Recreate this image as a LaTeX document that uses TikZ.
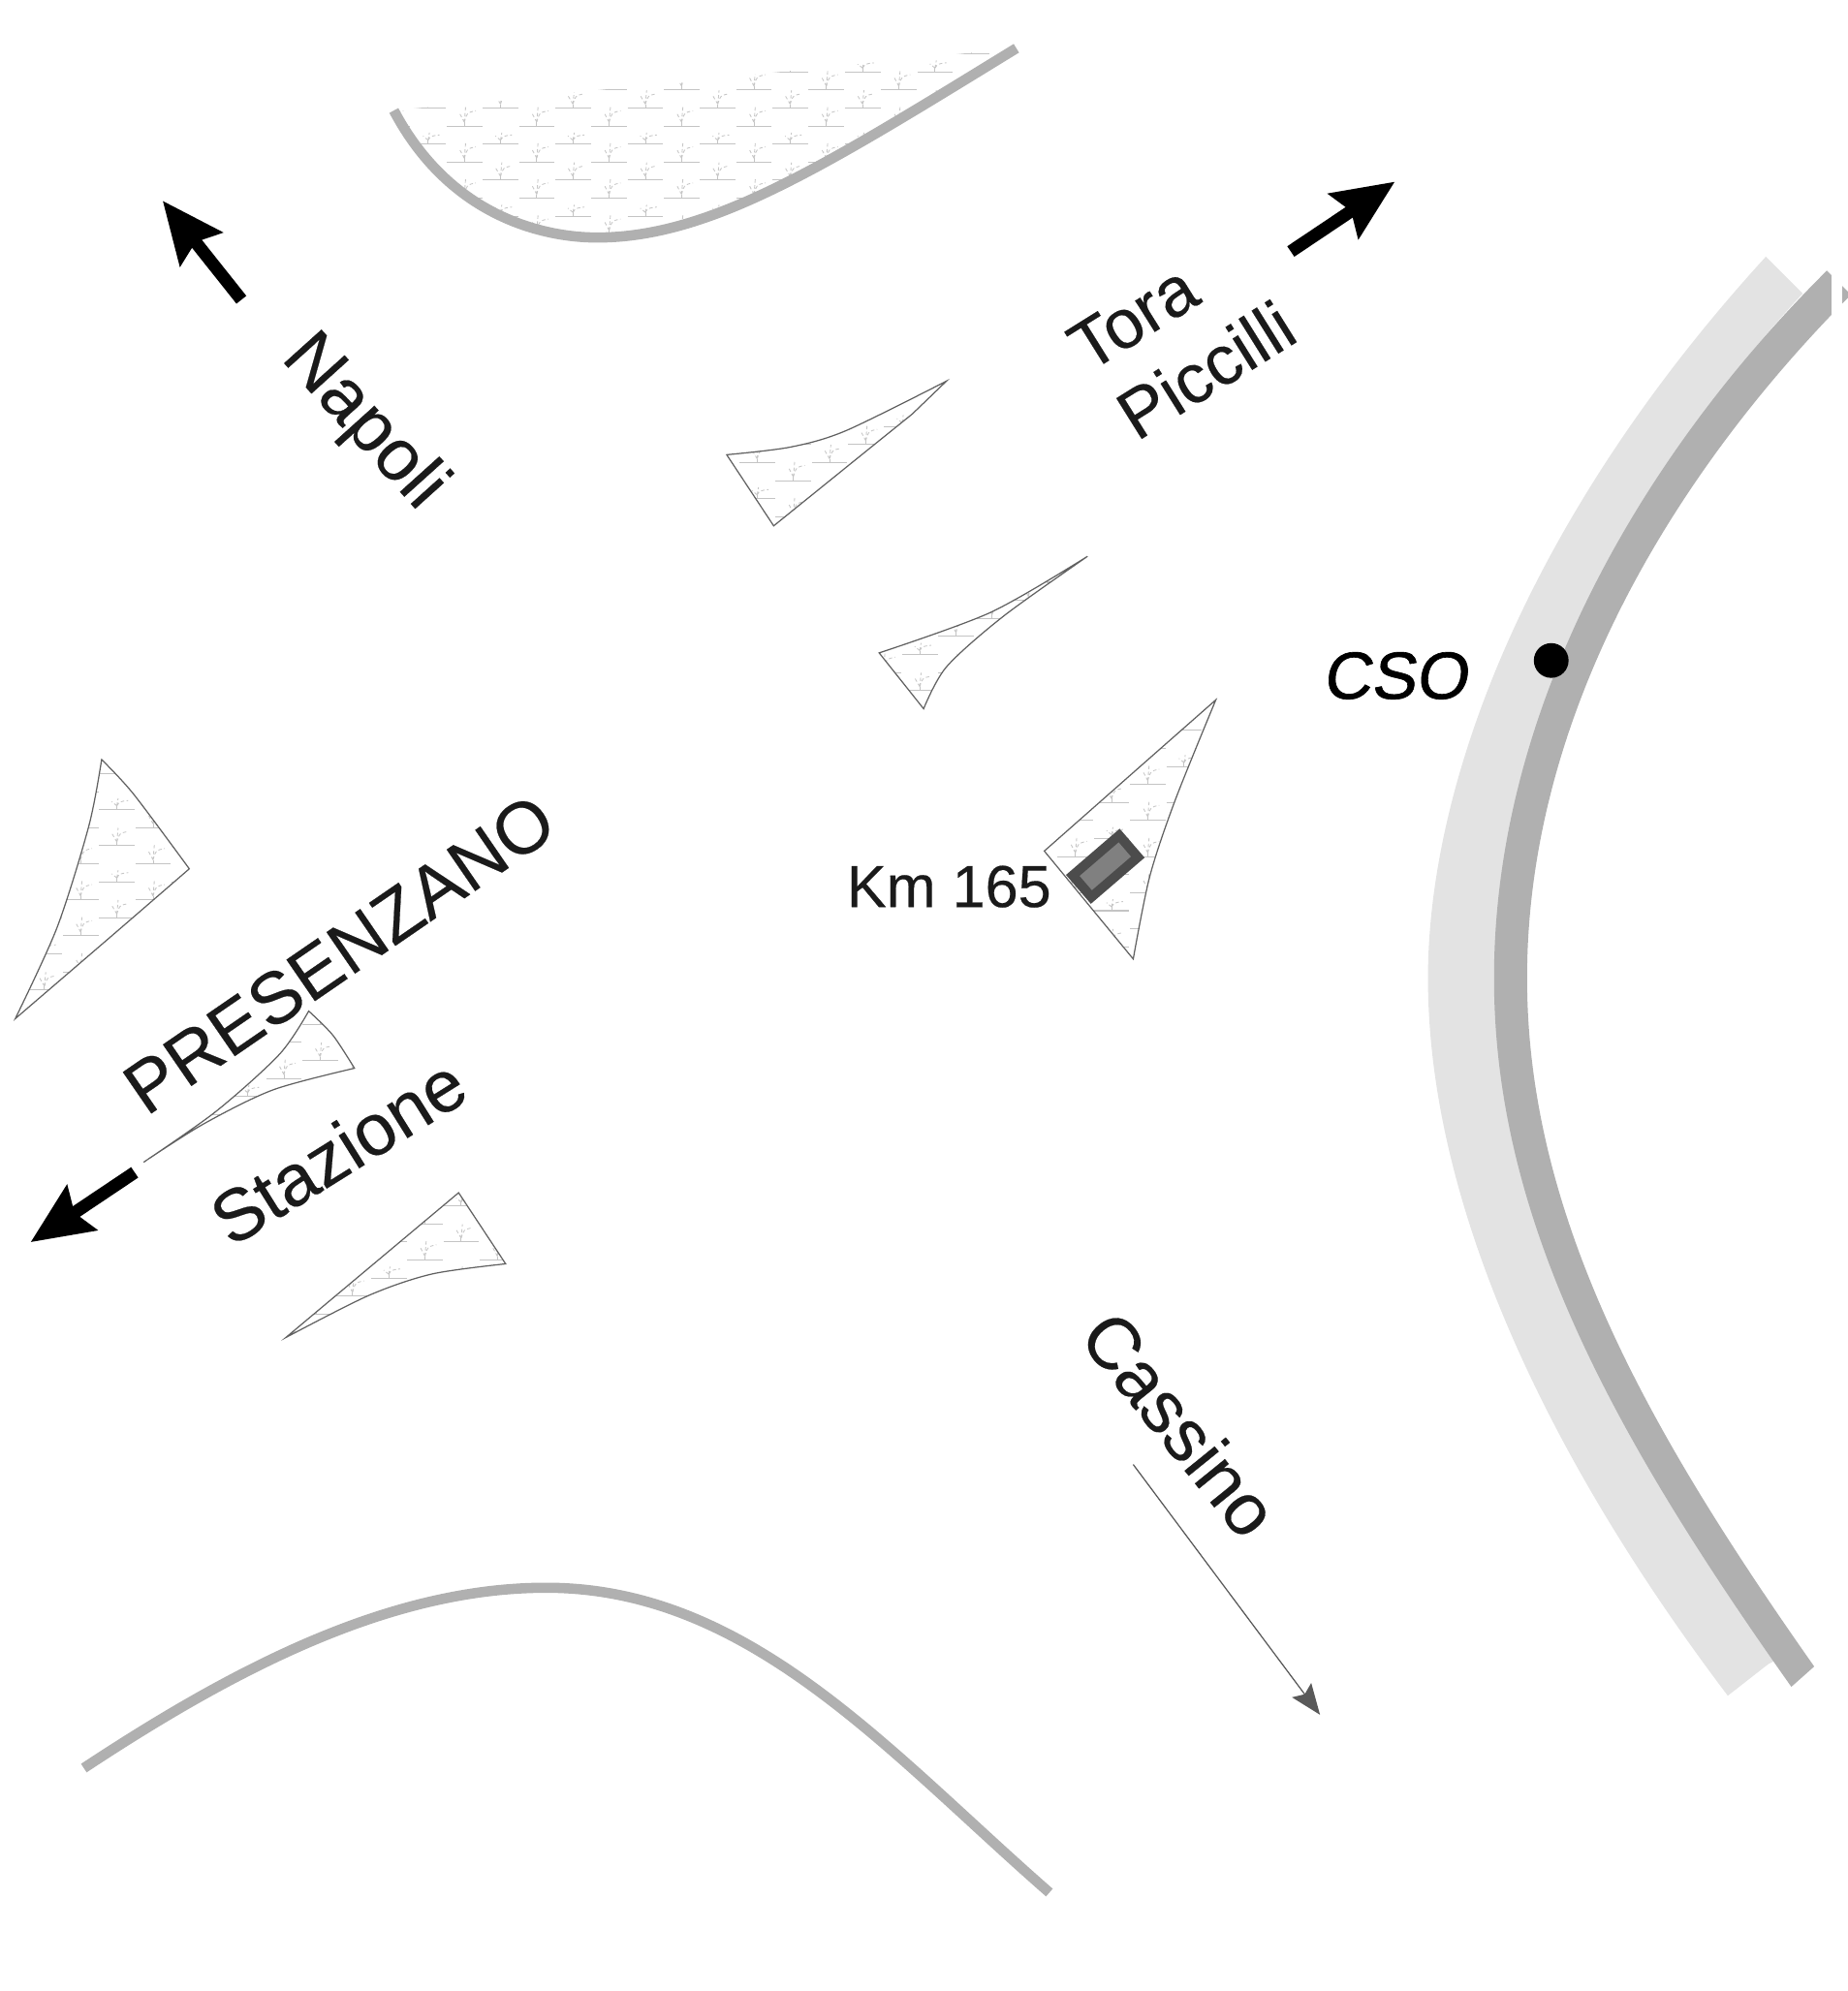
\documentclass[tikz,border=0pt]{standalone}
\usepackage{fontspec}
\setmainfont[FakeBold=0.3]{Liberation Sans}
\newfontfamily\csoFont[FakeBold=0.9,FakeSlant=0.14]{Liberation Sans}
\usetikzlibrary{arrows.meta,calc,positioning}
\definecolor{bandLight}{RGB}{227,227,227}
\definecolor{bandDark}{RGB}{176,176,176}
\definecolor{inkDark}{RGB}{26,26,26}
\tikzset{
  arcRoad/.style={draw=bandDark, line width=3pt},
  patchEdge/.style={draw=black!62, line width=0.35pt},
  marshLine/.style={draw=black!23, line width=0.3pt},
  marshTuft/.style={draw=black!23, line width=0.25pt},
  marshDash/.style={draw=black!22, line width=0.25pt, dash pattern=on 1pt off 0.7pt},
  bigArrow/.style={-{Stealth[length=18pt, width=15.5pt, inset=2.5pt]}, line width=3.7pt, black},
  thinArrow/.style={-{Stealth[length=9pt, width=7pt, inset=1.5pt]}, draw=black!65, fill=black!65, line width=0.35pt},
  placeBig/.style={font=\fontsize{21.4}{24}\selectfont, text=inkDark, inner sep=0pt},
  placeSub/.style={font=\fontsize{20.4}{24}\selectfont, text=inkDark, inner sep=0pt},
  placeMid/.style={font=\fontsize{17.4}{20}\selectfont, text=inkDark, inner sep=0pt},
  placeObs/.style={font=\fontsize{19.6}{22}\selectfont\csoFont, text=black, inner sep=0pt},
  obsDot/.style={circle, fill=black, minimum size=10.2pt, inner sep=0pt},
  fort/.style={rectangle, draw=black!70, fill=black!50, line width=2.8pt, minimum width=18pt, minimum height=8.4pt, inner sep=0pt}
}
\newcommand{\MarshGrid}[4]{% #1=x0, #2=y0, #3=columns, #4=rows
  \foreach \r in {0,...,#4}{%
    \foreach \c in {1,...,#3}{%
      \pgfmathsetmacro{\mx}{#1+57*\c+28.5*mod(\r,2)}%
      \pgfmathsetmacro{\my}{#2+14.2*\r}%
      \pgfmathsetmacro{\th}{mod(\r,2)==1 ? 15 : (mod(\r,4)==0 ? 14 : 9)}%
      \draw[marshLine] (\mx-14,\my) -- (\mx+14,\my);
      \draw[marshTuft] (\mx,\my) -- (\mx,\my-3);
      \draw[marshDash] (\mx,\my-3) -- (\mx+1,\my-\th) (\mx,\my-3) -- (\mx-4,\my-0.7*\th) (\mx,\my-3) .. controls (\mx+2,\my-0.7*\th) .. (\mx+9,\my-0.8*\th);
    }%
  }%
}
\newcommand{\MarshPatch}[5]{% #1=outline, #2=x0, #3=y0, #4=columns, #5=rows
  \begin{scope}
    \clip #1;
    \MarshGrid{#2}{#3}{#4}{#5}
  \end{scope}
  \draw[patchEdge] #1;
}
\begin{document}
\begin{tikzpicture}[x=0.01311cm, y=-0.01311cm]
  \useasboundingbox (0,0) rectangle (1453.9,1567.5);
  % ridge band on the right
  \fill[bandLight] (1390,202) .. controls (1200,410) and (1124,620) .. (1124,770) .. controls (1124,950) and (1220,1150) .. (1360,1335)
    -- (1392,1310) -- (1402,1305) .. controls (1300,1150) and (1190,980) .. (1190,770) .. controls (1190,560) and (1290,370) .. (1419,231) -- cycle;
  \fill[bandDark] (1438,213) .. controls (1290,360) and (1176,560) .. (1176,770) .. controls (1176,960) and (1270,1130) .. (1410,1328)
    -- (1428,1312) .. controls (1300,1130) and (1202,960) .. (1202,770) .. controls (1202,570) and (1310,380) .. (1457,232) -- cycle;
  \fill[white] (1442,205) rectangle (1450,255);
  % top marsh and lower arc
  \begin{scope}
    \clip (310,87) .. controls (355,172) and (430,187) .. (470,187) .. controls (560,187) and (650,130) .. (800,38) -- cycle;
    \MarshGrid{223}{28.2}{11}{12}
  \end{scope}
  \draw[arcRoad] (310,87) .. controls (355,172) and (430,187) .. (470,187) .. controls (560,187) and (650,130) .. (800,38);
  \draw[arcRoad] (66,1392) .. controls (190,1310) and (310,1250) .. (430,1250) .. controls (590,1250) and (700,1380) .. (826,1490);
  % marsh patches
  \MarshPatch{plot[smooth] coordinates {(745,300) (666,339) (622,352) (572,358)} -- (609,414) -- (682,355) -- (718,326) -- cycle}{482}{307.4}{5}{8}
  \MarshPatch{plot[smooth] coordinates {(856,438) (780,482) (692,514)} -- plot[smooth] coordinates {(727,558) (745,525) (790,485) (856,438)} -- cycle}{610}{430}{5}{10}
  \MarshPatch{plot[smooth] coordinates {(957,551) (890,610) (822,670)} -- plot[smooth] coordinates {(892,755) (905,690) (925,630) (957,551)} -- cycle}{761}{575}{4}{13}
  \MarshPatch{plot[smooth] coordinates {(80,598) (105,625) (149,684)} -- plot[smooth] coordinates {(149,684) (90,735) (12,802)} -- plot[smooth] coordinates {(12,802) (45,730) (70,650) (80,598)} -- cycle}{-22}{609}{3}{14}
  \MarshPatch{plot[smooth] coordinates {(243,796) (262,815) (279,841)} -- plot[smooth] coordinates {(279,841) (215,858) (160,885) (113,915)} -- plot[smooth] coordinates {(113,915) (170,875) (220,830) (243,796)} -- cycle}{24}{778}{5}{10}
  \MarshPatch{(361,939) -- (398,995) -- plot[smooth] coordinates {(398,995) (340,1003) (290,1020) (225,1053)} -- cycle}{135}{921}{5}{10}
  % arrows
  \coordinate (napoliTail) at (190,236);
  \coordinate (napoliTip) at (128,158);
  \coordinate (toraTail) at (1016,198);
  \coordinate (toraTip) at (1098,143);
  \coordinate (stazioneTail) at (106,923);
  \coordinate (stazioneTip) at (24,978);
  \coordinate (cassinoTail) at (892,1153);
  \coordinate (cassinoTip) at (1039,1350);
  \draw[bigArrow] (napoliTail) -- (napoliTip);
  \draw[bigArrow] (toraTail) -- (toraTip);
  \draw[bigArrow] (stazioneTail) -- (stazioneTip);
  \draw[thinArrow] (cassinoTail) -- (cassinoTip);
  % place names
  \node[placeBig, rotate=-48] (napoli) at (286,333) {Napoli};
  \node[placeSub, rotate=32] (tora) at (892,250) {Tora};
  \node[placeSub, rotate=32] (piccilli) at (949,291) {Piccilli};
  \node[placeBig, rotate=34.5] (presenzano) at (267,751) {PRESENZANO};
  \node[placeBig, rotate=32] (stazione) at (266,906) {Stazione};
  \node[placeBig, rotate=-51] (cassino) at (929,1121) {Cassino};
  \node[placeMid] (kmLabel) at (747,698) {Km 165};
  \node[placeObs] (csoLabel) at (1098,532) {CSO};
  \node[obsDot] (csoDot) at (1221,520) {};
  \node[fort, rotate=40.7] (kmFort) at (870,682) {};
\end{tikzpicture}
\end{document}
